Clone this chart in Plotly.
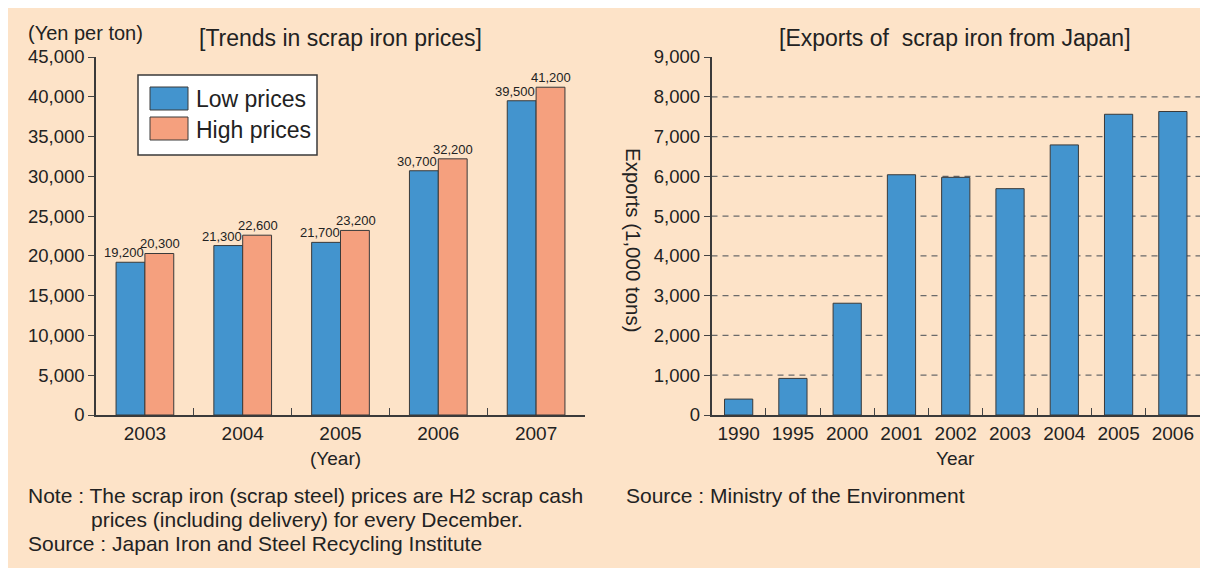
import plotly.graph_objects as go

# ---------------- data ----------------
price_years = ["2003", "2004", "2005", "2006", "2007"]
low_prices = [19200, 21300, 21700, 30700, 39500]
high_prices = [20300, 22600, 23200, 32200, 41200]
price_ticks = list(range(0, 45001, 5000))

export_years = ["1990", "1995", "2000", "2001", "2002", "2003", "2004", "2005", "2006"]
exports = [400, 920, 2810, 6040, 5975, 5690, 6790, 7560, 7630]
export_ticks = list(range(0, 9001, 1000))
export_grid = list(range(1000, 8001, 1000))

# ---------------- styling ----------------
FW, FH = 1208, 568          # figure size (page adds an 8px body margin)
OFF = 8
FONT = "Liberation Sans, Arial, sans-serif"
TXT = "#222222"
BG = "#FDE3C8"
BLUE = "#4394CE"
PINK = "#F5A07E"
EDGE = "#3a3a3a"


def px(x):
    return (x - OFF) / FW


def py(y):
    return 1 - (y - OFF) / FH


fig = go.Figure()

fig.add_trace(go.Bar(x=price_years, y=low_prices, name="Low prices",
                     marker=dict(color=BLUE, line=dict(color=EDGE, width=1)),
                     xaxis="x", yaxis="y", showlegend=False, hoverinfo="x+y"))
fig.add_trace(go.Bar(x=price_years, y=high_prices, name="High prices",
                     marker=dict(color=PINK, line=dict(color=EDGE, width=1)),
                     xaxis="x", yaxis="y", showlegend=False, hoverinfo="x+y"))
fig.add_trace(go.Bar(x=export_years, y=exports, name="Exports", width=0.52,
                     marker=dict(color=BLUE, line=dict(color=EDGE, width=1)),
                     xaxis="x2", yaxis="y2", showlegend=False, hoverinfo="x+y"))

annotations = []
# value labels on the price chart (x given as category index)
for i, v in enumerate(low_prices):
    annotations.append(dict(x=i, y=v, xref="x", yref="y", text=f"{v:,}", showarrow=False,
                            xanchor="center", yanchor="bottom", xshift=-21, yshift=0,
                            font=dict(size=13, color=TXT, family=FONT)))
for i, v in enumerate(high_prices):
    annotations.append(dict(x=i, y=v, xref="x", yref="y", text=f"{v:,}", showarrow=False,
                            xanchor="center", yanchor="bottom", xshift=15, yshift=0,
                            font=dict(size=13, color=TXT, family=FONT)))


def txt(x, y, s, size=17, xanchor="left", yanchor="middle", angle=0):
    annotations.append(dict(x=px(x), y=py(y), xref="paper", yref="paper", text=s,
                            showarrow=False, xanchor=xanchor, yanchor=yanchor,
                            textangle=angle, font=dict(size=size, color=TXT, family=FONT)))


txt(26, 33, "(Yen per ton)", 20)
txt(340, 38, "[Trends in scrap iron prices]", 23, xanchor="center")
txt(955, 38, "[Exports of  scrap iron from Japan]", 23, xanchor="center")
txt(335, 458, "(Year)", 19, xanchor="center")
txt(955, 458, "Year", 19, xanchor="center")
txt(634, 240, "Exports (1,000 tons)", 20.5, xanchor="center", angle=90)
txt(26, 495, "Note : The scrap iron (scrap steel) prices are H2 scrap cash", 21)
txt(89, 519, "prices (including delivery) for every December.", 21)
txt(26, 543, "Source : Japan Iron and Steel Recycling Institute", 21)
txt(624, 495, "Source : Ministry of the Environment", 21)
# legend texts
txt(194, 99, "Low prices", 23)
txt(194, 130, "High prices", 23)

shapes = [
    # legend box
    dict(type="rect", xref="paper", yref="paper", x0=px(138), x1=px(317), y0=py(155), y1=py(75),
         fillcolor="white", line=dict(color=EDGE, width=1.5)),
    dict(type="rect", xref="paper", yref="paper", x0=px(150), x1=px(188), y0=py(110), y1=py(87),
         fillcolor=BLUE, line=dict(color=EDGE, width=1)),
    dict(type="rect", xref="paper", yref="paper", x0=px(150), x1=px(188), y0=py(140), y1=py(117),
         fillcolor=PINK, line=dict(color=EDGE, width=1)),
]
for g in export_grid:
    shapes.append(dict(type="line", xref="x2 domain", yref="y2", x0=0, x1=1, y0=g, y1=g,
                       line=dict(color="#6a6a6a", width=1.2, dash="6px,5px"), layer="below"))

axis_common = dict(showline=True, linecolor=EDGE, linewidth=1.5, showgrid=False, zeroline=False,
                   automargin=False, tickcolor="#444")
xfont = dict(size=19, color=TXT, family=FONT)
yfont = dict(size=18.5, color=TXT, family=FONT)

fig.update_layout(
    width=FW, height=FH,
    margin=dict(l=0, r=0, t=0, b=0, pad=0, autoexpand=False),
    paper_bgcolor=BG, plot_bgcolor="rgba(0,0,0,0)",
    font=dict(family=FONT, color=TXT),
    barmode="group", bargap=0.41, bargroupgap=0,
    xaxis=dict(domain=[px(96), px(585)], anchor="y", type="category", range=[-0.5, 4.5],
               tickson="boundaries", ticks="inside", ticklen=7, tickfont=xfont, **axis_common),
    yaxis=dict(domain=[py(415), py(57)], anchor="x", range=[0, 45000],
               tickvals=price_ticks, tickformat=",", ticks="outside", ticklen=6,
               tickfont=yfont, **axis_common),
    xaxis2=dict(domain=[px(711.5), px(1200)], anchor="y2", type="category", range=[-0.5, 8.5],
                tickson="boundaries", ticks="inside", ticklen=7, tickfont=xfont, **axis_common),
    yaxis2=dict(domain=[py(415), py(57)], anchor="x2", range=[0, 9000],
                tickvals=export_ticks, tickformat=",", ticks="outside", ticklen=6,
                tickfont=yfont, **axis_common),
    annotations=annotations,
    shapes=shapes,
)

fig.write_html("out.html")
